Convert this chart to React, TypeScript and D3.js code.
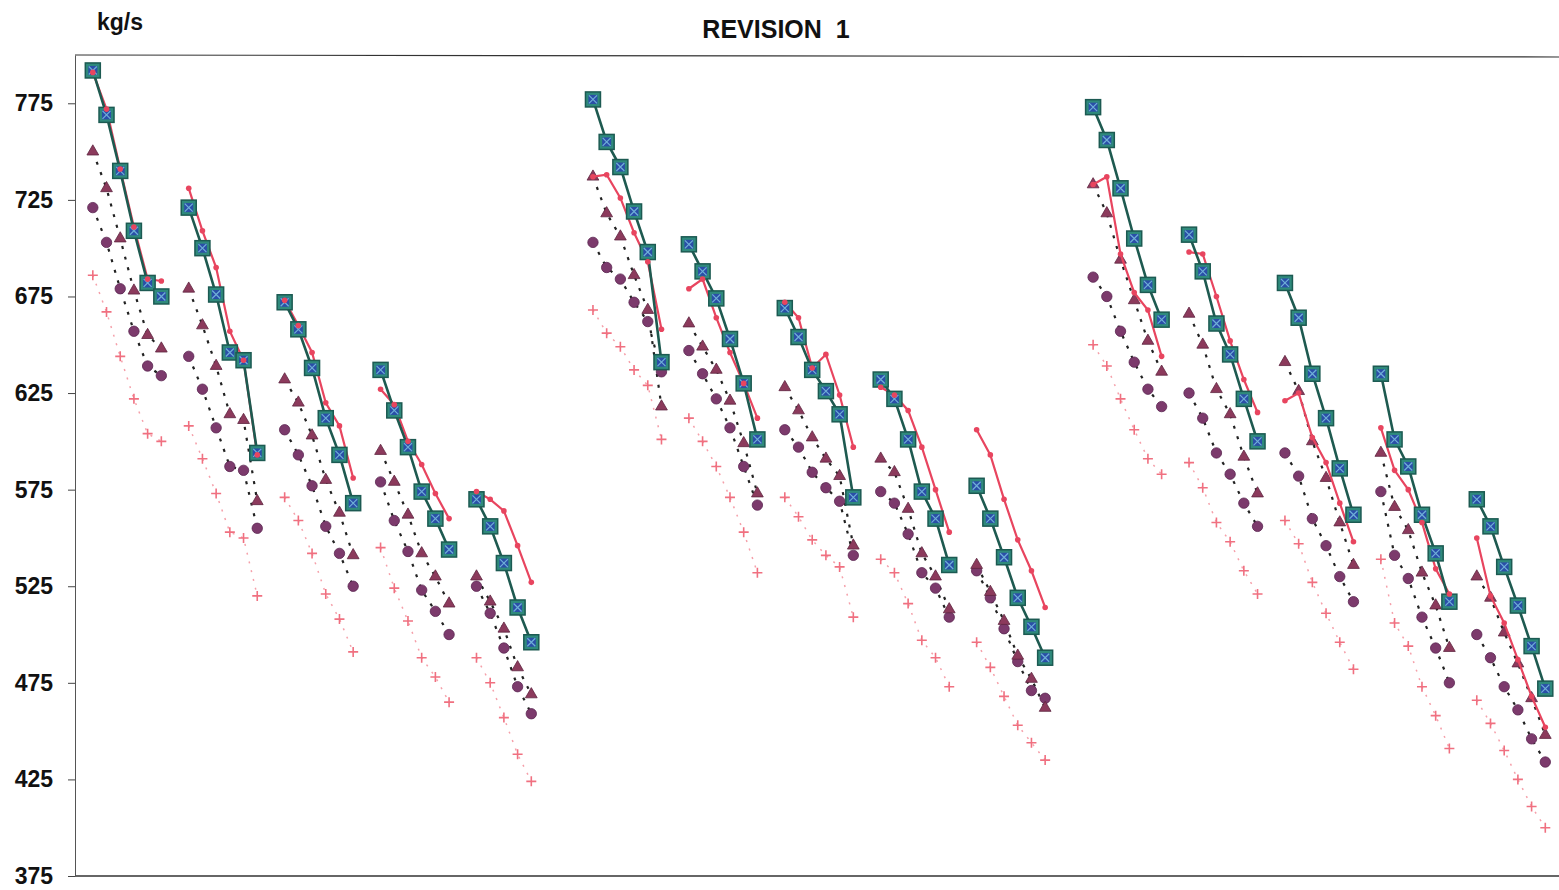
import { useEffect, useRef } from "react";
import * as d3 from "d3";

// Each series: 15 runs (3 groups x 5 runs), values in kg/s
const tealRuns = [
    [792, 769, 740, 709, 682, 675], [721, 700, 676, 646, 642, 594], [672, 658, 638, 612, 593, 568], [637, 616, 597, 574, 560, 544], [570, 556, 537, 514, 496],
    [777, 755, 742, 719, 698, 641], [702, 688, 674, 653, 630, 601], [669, 654, 637, 626, 614, 571], [632, 622, 601, 574, 560, 536], [577, 560, 540, 519, 504, 488],
    [773, 756, 731, 705, 681, 663], [707, 688, 661, 645, 622, 600], [682, 664, 635, 612, 586, 562], [635, 601, 587, 562, 542, 517], [570, 556, 535, 515, 494, 472],
];
const redRuns = [
    [791, 772, 741, 711, 684, 683], [731, 709, 690, 657, 642, 593], [673, 660, 646, 620, 608, 581], [627, 619, 600, 588, 573, 560], [574, 570, 564, 546, 527],
    [737, 738, 726, 708, 693, 658], [679, 684, 664, 646, 630, 612], [672, 664, 638, 645, 624, 597], [628, 624, 616, 597, 575, 553], [606, 593, 570, 549, 533, 514],
    [733, 737, 697, 677, 668, 644], [698, 697, 675, 652, 632, 615], [621, 625, 602, 589, 568, 548], [607, 585, 575, 558, 534, 521], [550, 520, 506, 487, 468, 452],
];
const triangleRuns = [
    [750, 731, 705, 678, 655, 648], [679, 660, 639, 614, 611, 569], [632, 620, 603, 580, 563, 541], [595, 579, 562, 542, 530, 516], [530, 517, 503, 483, 469],
    [737, 718, 706, 686, 668, 618], [661, 649, 637, 621, 599, 573], [628, 616, 602, 591, 582, 546], [591, 584, 565, 542, 530, 513], [536, 522, 507, 489, 477, 462],
    [733, 718, 694, 673, 652, 636], [666, 650, 627, 614, 592, 573], [641, 626, 600, 581, 558, 536], [594, 566, 554, 532, 515, 493], [530, 519, 501, 485, 467, 448],
];
const circleRuns = [
    [721, 703, 679, 657, 639, 634], [644, 627, 607, 587, 585, 555], [606, 593, 577, 556, 542, 525], [579, 559, 543, 523, 512, 500], [525, 511, 493, 473, 459],
    [703, 690, 684, 672, 662, 636], [647, 635, 622, 607, 587, 567], [606, 597, 584, 576, 569, 541], [574, 568, 552, 532, 524, 509], [533, 519, 503, 486, 471, 467],
    [685, 675, 657, 641, 627, 618], [625, 612, 594, 583, 568, 556], [594, 582, 560, 546, 530, 517], [574, 541, 529, 509, 493, 475], [500, 488, 473, 461, 446, 434],
];
const crossRuns = [
    [686, 667, 644, 622, 604, 600], [608, 591, 573, 553, 550, 520], [571, 559, 542, 521, 508, 491], [545, 524, 507, 488, 478, 465], [488, 475, 457, 438, 424],
    [668, 656, 649, 637, 629, 601], [612, 600, 587, 571, 553, 532], [571, 561, 549, 541, 535, 509], [539, 532, 516, 497, 488, 473], [496, 483, 468, 453, 444, 435],
    [650, 639, 622, 606, 591, 583], [589, 576, 558, 548, 533, 521], [559, 547, 527, 511, 496, 482], [539, 506, 494, 473, 458, 441], [466, 454, 440, 425, 411, 400],
];
const yTicks = [375, 425, 475, 525, 575, 625, 675, 725, 775];

const width = 1559;
const height = 890;
const margin = { top: 55, right: 0, bottom: 14, left: 75 };

// slot layout: each run takes 7 slots, each group of 5 runs gets 1.5 extra slots
const RUN_SLOTS = 7;
const GROUP_SLOTS = 5 * RUN_SLOTS + 1.5;

const toPoints = (runs) => runs.map((run, k) => run.map((v, i) => ({
    slot: Math.floor(k / 5) * GROUP_SLOTS + (k % 5) * RUN_SLOTS + i,
    value: v,
})));

const drawChart = (node) => {
    const svg = d3.select(node);
    svg.selectAll('*').remove();

    const x = d3.scaleLinear().domain([-1.3, 107]).range([margin.left, width - margin.right]);
    const y = d3.scaleLinear().domain([375, 800]).range([height - margin.bottom, margin.top]);

    const line = d3.line().x(d => x(d.slot)).y(d => y(d.value));
    const font = 'Liberation Sans, Arial, sans-serif';

    // frame: top and bottom lines
    svg.append('line')
        .attr('x1', margin.left).attr('x2', width)
        .attr('y1', y(800)).attr('y2', y(800) + 2)
        .attr('stroke', '#333').attr('stroke-width', 1.2);
    svg.append('line')
        .attr('x1', margin.left).attr('x2', width)
        .attr('y1', y(375)).attr('y2', y(375))
        .attr('stroke', '#333').attr('stroke-width', 1.4);

    // y axis
    const yAxis = svg.append('g')
        .attr('transform', `translate(${margin.left},0)`)
        .call(d3.axisLeft(y).tickValues(yTicks).tickSize(7).tickPadding(15).tickSizeOuter(0));
    yAxis.select('.domain').attr('stroke', '#555').attr('stroke-width', 1);
    yAxis.selectAll('.tick line').attr('stroke', '#444');
    yAxis.selectAll('text')
        .attr('font-family', font)
        .attr('font-weight', 'bold')
        .attr('font-size', 23)
        .attr('fill', '#111');

    // titles
    svg.append('text')
        .attr('x', 97).attr('y', 30)
        .attr('font-family', font).attr('font-weight', 'bold').attr('font-size', 23)
        .attr('fill', '#111')
        .text('kg/s');
    svg.append('text')
        .attr('x', 776).attr('y', 38)
        .attr('text-anchor', 'middle')
        .attr('font-family', font).attr('font-weight', 'bold').attr('font-size', 25)
        .attr('fill', '#111')
        .attr('xml:space', 'preserve')
        .text('REVISION  1');

    // crosses, dotted pink
    const crosses = toPoints(crossRuns);
    svg.append('g').selectAll('path')
        .data(crosses).join('path')
        .attr('d', line).attr('fill', 'none')
        .attr('stroke', '#f5a0aa').attr('stroke-width', 1.5).attr('stroke-dasharray', '2,7');
    svg.append('g').selectAll('path')
        .data(crosses.flat()).join('path')
        .attr('transform', d => `translate(${x(d.slot)},${y(d.value)})`)
        .attr('d', 'M-5,0H5M0,-5V5')
        .attr('stroke', '#f07080').attr('stroke-width', 1.6);

    // circles and triangles, dashed black
    const circles = toPoints(circleRuns);
    const triangles = toPoints(triangleRuns);
    svg.append('g').selectAll('path')
        .data([...circles, ...triangles]).join('path')
        .attr('d', line).attr('fill', 'none')
        .attr('stroke', '#222').attr('stroke-width', 2.2).attr('stroke-dasharray', '3,8');
    svg.append('g').selectAll('circle')
        .data(circles.flat()).join('circle')
        .attr('cx', d => x(d.slot)).attr('cy', d => y(d.value)).attr('r', 5.2)
        .attr('fill', '#7c3a6c').attr('stroke', '#5a2450').attr('stroke-width', 0.8);
    svg.append('g').selectAll('path')
        .data(triangles.flat()).join('path')
        .attr('transform', d => `translate(${x(d.slot)},${y(d.value)})`)
        .attr('d', d3.symbol(d3.symbolTriangle, 60))
        .attr('fill', '#8c3a5c').attr('stroke', '#5e2440').attr('stroke-width', 0.8);

    // red series
    const reds = toPoints(redRuns);
    svg.append('g').selectAll('path')
        .data(reds).join('path')
        .attr('d', line).attr('fill', 'none')
        .attr('stroke', '#e8455f').attr('stroke-width', 2.2);

    // teal series with squares
    const teals = toPoints(tealRuns);
    svg.append('g').selectAll('path')
        .data(teals).join('path')
        .attr('d', line).attr('fill', 'none')
        .attr('stroke', '#1e5a50').attr('stroke-width', 2.6);
    const sq = svg.append('g').selectAll('g')
        .data(teals.flat()).join('g')
        .attr('transform', d => `translate(${x(d.slot)},${y(d.value)})`);
    sq.append('rect')
        .attr('x', -7.5).attr('y', -7.5).attr('width', 15).attr('height', 15)
        .attr('fill', '#2f8a7c').attr('stroke', '#1c5a52').attr('stroke-width', 1.5);
    sq.append('rect')
        .attr('x', -4.5).attr('y', -4.5).attr('width', 9).attr('height', 9)
        .attr('fill', '#2a4ea8');
    sq.append('path')
        .attr('d', 'M-4,-4L4,4M4,-4L-4,4')
        .attr('stroke', '#6fb0d8').attr('stroke-width', 1.2);

    // red dots on top
    svg.append('g').selectAll('circle')
        .data(reds.flat()).join('circle')
        .attr('cx', d => x(d.slot)).attr('cy', d => y(d.value)).attr('r', 2.8)
        .attr('fill', '#e8455f');
};

export default function App() {
    const ref = useRef(null);

    useEffect(() => {
        drawChart(ref.current);
    }, []);

    return (
        <svg ref={ref} width={width} height={height}
            style={{ position: 'absolute', left: 0, top: 0, background: '#fff' }} />
    );
}
